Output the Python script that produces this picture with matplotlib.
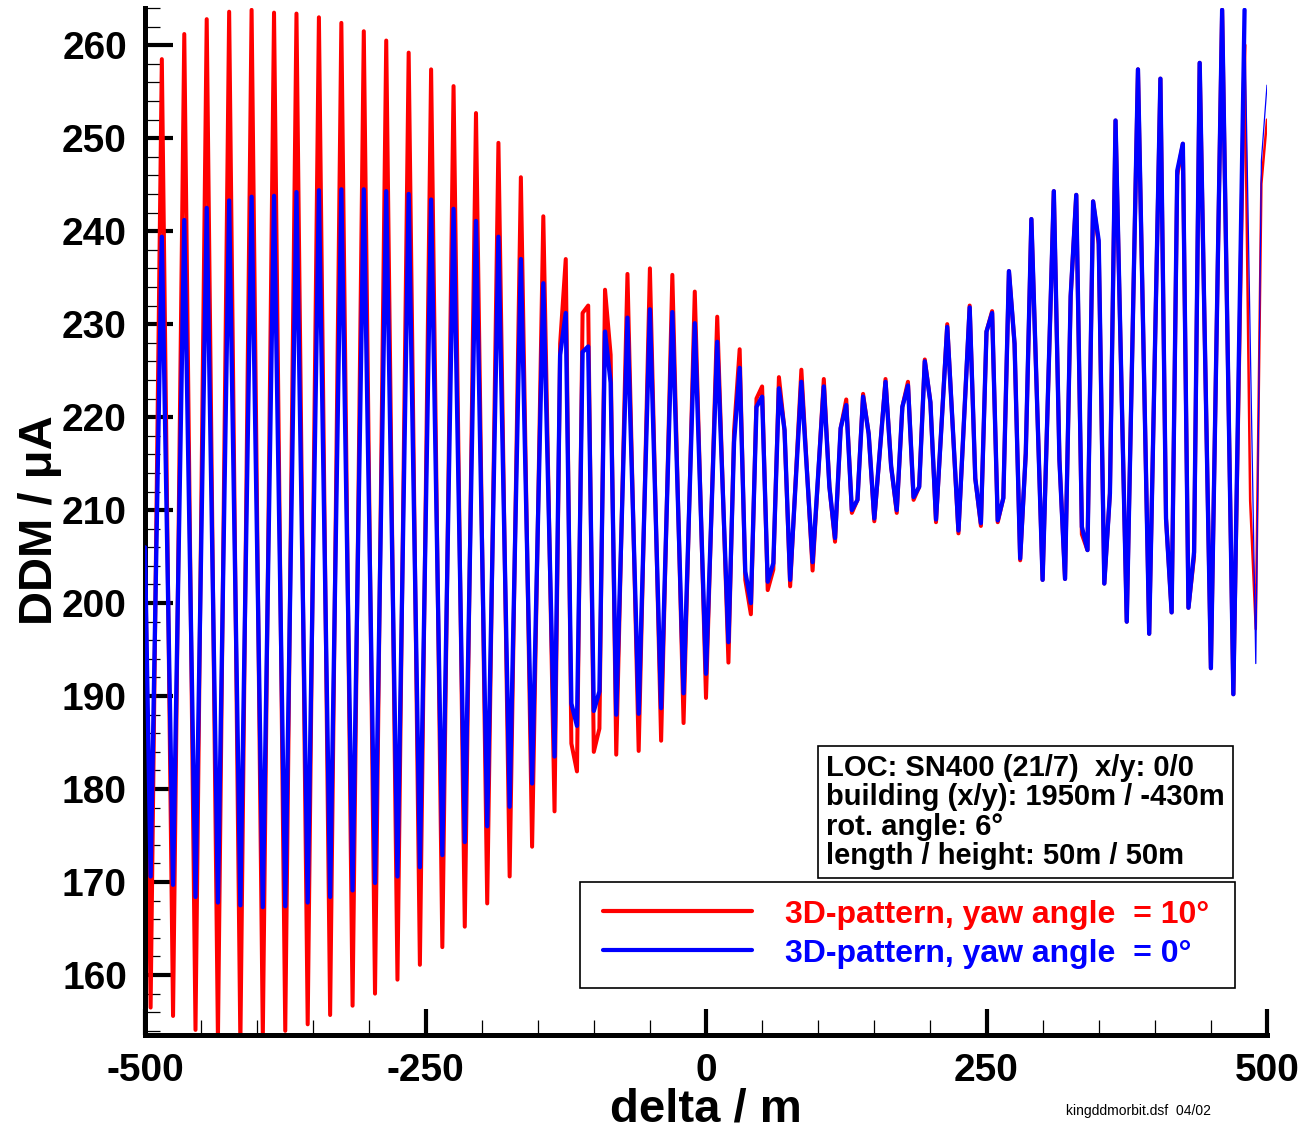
import matplotlib
matplotlib.use("Agg")
import matplotlib.pyplot as plt
from matplotlib.patches import Rectangle
from matplotlib.ticker import MultipleLocator

plt.rcParams['font.family'] = ['Liberation Sans', 'DejaVu Sans']
plt.rcParams['axes.unicode_minus'] = False

# sampled DDM values (vertices of the traces, every 5 m where the trace bends)
x_yaw0 = [-500, -495, -485, -475, -465, -455, -445, -435, -425, -415, -405, -395,
          -385, -375, -365, -355, -345, -335, -325, -315, -305, -295, -285, -275,
          -265, -255, -245, -235, -225, -215, -205, -195, -185, -175, -165, -155,
          -145, -135, -130, -125, -120, -115, -110, -105, -100, -95, -90, -85,
          -80, -70, -60, -50, -40, -30, -20, -10, 0, 10, 20, 25, 30, 35, 40, 45,
          50, 55, 60, 65, 70, 75, 85, 95, 105, 110, 115, 120, 125, 130, 135, 140,
          145, 150, 160, 165, 170, 175, 180, 185, 190, 195, 200, 205, 215, 225,
          235, 240, 245, 250, 255, 260, 265, 270, 275, 280, 285, 290, 300, 310,
          315, 320, 325, 330, 335, 340, 345, 350, 355, 360, 365, 375, 385, 395,
          405, 410, 415, 420, 425, 430, 435, 440, 450, 460, 470, 480]
ddm_yaw0 = [206.0, 170.6, 239.4, 169.7, 241.2, 168.4, 242.5, 167.8, 243.3, 167.5,
            243.7, 167.3, 243.8, 167.4, 244.2, 167.8, 244.4, 168.4, 244.5, 169.1,
            244.5, 169.9, 244.3, 170.6, 244.0, 171.6, 243.4, 172.9, 242.4, 174.3,
            241.1, 176.0, 239.4, 178.1, 237.0, 180.6, 234.4, 183.5, 226.7, 231.2,
            189.2, 186.8, 227.0, 227.6, 188.4, 190.5, 229.2, 223.7, 188.0, 230.7,
            188.1, 231.6, 188.7, 231.3, 190.3, 230.1, 192.4, 228.1, 195.8, 217.3,
            225.3, 203.4, 200.0, 221.1, 222.2, 202.3, 204.3, 223.1, 218.6, 202.5,
            223.8, 204.4, 223.3, 212.5, 207.0, 218.8, 221.3, 210.0, 211.1, 222.2,
            218.2, 209.1, 223.8, 214.7, 210.0, 221.1, 223.4, 211.4, 212.5, 226.0,
            221.6, 209.0, 229.7, 207.8, 231.8, 213.4, 208.6, 229.2, 231.2, 208.9,
            211.3, 235.7, 227.9, 204.8, 216.1, 241.3, 202.5, 244.3, 215.4, 202.6,
            233.0, 243.9, 208.2, 205.7, 243.2, 239.0, 202.1, 211.8, 251.9, 198.0,
            257.4, 196.7, 256.4, 209.1, 199.0, 246.5, 249.4, 199.5, 205.5, 258.1,
            193.0, 263.8, 190.2, 263.8]
x_yaw0_end = [480, 490, 495, 500]
ddm_yaw0_end = [263.8, 193.5, 247.6, 255.7]

x_yaw10 = [-500, -495, -485, -475, -465, -455, -445, -435, -425, -415, -405, -395,
           -385, -375, -365, -355, -345, -335, -325, -315, -305, -295, -285, -275,
           -265, -255, -245, -235, -225, -215, -205, -195, -185, -175, -165, -155,
           -145, -135, -130, -125, -120, -115, -110, -105, -100, -95, -90, -85,
           -80, -70, -60, -50, -40, -30, -20, -10, 0, 10, 20, 25, 30, 35, 40, 45,
           50, 55, 60, 65, 70, 75, 85, 95, 105, 110, 115, 120, 125, 130, 135, 140,
           145, 150, 160, 165, 170, 175, 180, 185, 190, 195, 200, 205, 215, 225,
           235, 240, 245, 250, 255, 260, 265, 270, 275, 280, 285, 290, 300, 310,
           315, 320, 325, 330, 335, 340, 345, 350, 355, 360, 365, 375, 385, 395,
           405, 410, 415, 420, 425, 430, 435, 440, 450, 460, 470, 480]
ddm_yaw10 = [208.0, 156.5, 258.5, 155.6, 261.2, 154.1, 262.8, 153.0, 263.6, 152.5,
             263.8, 153.3, 263.5, 154.0, 263.4, 154.7, 263.0, 155.7, 262.4, 156.7,
             261.5, 158.0, 260.5, 159.5, 259.2, 161.1, 257.4, 163.0, 255.6, 165.2,
             252.7, 167.7, 249.5, 170.6, 245.8, 173.8, 241.6, 177.6, 227.9, 237.0,
             184.9, 181.9, 231.2, 232.0, 184.0, 186.5, 233.7, 226.7, 183.7, 235.4,
             184.1, 236.0, 185.2, 235.3, 187.1, 233.5, 189.8, 230.8, 193.6, 218.5,
             227.3, 202.5, 198.8, 222.0, 223.3, 201.4, 203.6, 224.3, 218.6, 201.8,
             225.1, 203.5, 224.1, 212.5, 206.6, 218.8, 221.9, 209.7, 211.1, 222.5,
             218.2, 208.8, 224.1, 214.7, 209.7, 221.1, 223.8, 211.1, 212.5, 226.2,
             221.6, 208.7, 230.0, 207.5, 232.0, 213.4, 208.3, 229.2, 231.4, 208.7,
             211.3, 235.7, 227.9, 204.6, 216.1, 241.3, 202.5, 244.3, 215.4, 202.6,
             233.0, 243.9, 207.4, 205.7, 243.2, 238.6, 202.1, 211.8, 251.9, 198.0,
             257.4, 196.7, 256.4, 209.1, 199.0, 246.0, 249.4, 199.5, 205.0, 258.1,
             193.0, 263.8, 190.2, 260.0]
x_yaw10_end = [480, 485, 490, 495, 500]
ddm_yaw10_end = [260.0, 211.0, 197.2, 245.1, 252.0]

series_labels = ['3D-pattern, yaw angle  = 10°', '3D-pattern, yaw angle  = 0°']
series_colors = ['#ff0000', '#0000ff']

info_lines = ['LOC: SN400 (21/7)  x/y: 0/0',
              'building (x/y): 1950m / -430m',
              'rot. angle: 6°',
              'length / height: 50m / 50m']

W, H = 1302, 1133
fig = plt.figure(figsize=(W / 100, H / 100), dpi=100)
ax = fig.add_axes([145 / W, 1 - 1035 / H, 1122 / W, 1027 / H])

line_kw = dict(solid_joinstyle='round', solid_capstyle='round')
ax.plot(x_yaw10, ddm_yaw10, color=series_colors[0], lw=2.9, zorder=2, **line_kw)
ax.plot(x_yaw10_end, ddm_yaw10_end, color=series_colors[0], lw=1.8, zorder=2, **line_kw)
ax.plot(x_yaw0, ddm_yaw0, color=series_colors[1], lw=3.1, zorder=3, **line_kw)
ax.plot(x_yaw0_end, ddm_yaw0_end, color=series_colors[1], lw=0.9, zorder=3, **line_kw)

ax.set_xlim(-500, 500)
ax.set_ylim(153.55, 264.0)

for side in ['top', 'right']:
    ax.spines[side].set_visible(False)
for side in ['left', 'bottom']:
    ax.spines[side].set_linewidth(3.6)
    ax.spines[side].set_capstyle('projecting')

ax.set_xticks([-500, -250, 0, 250, 500])
ax.xaxis.set_minor_locator(MultipleLocator(50))
ax.set_yticks(range(160, 261, 10))
ax.yaxis.set_minor_locator(MultipleLocator(2))

ax.tick_params(axis='both', which='major', direction='in', width=3.0,
               labelsize=28, pad=13, color='black')
ax.tick_params(axis='x', which='major', length=19)
ax.tick_params(axis='y', which='major', length=20)
ax.tick_params(axis='both', which='minor', direction='in', width=0.9, length=10.5)
for lab in ax.get_xticklabels() + ax.get_yticklabels():
    lab.set_fontweight('bold')

fig.text(40 / W, 1 - 520 / H, 'DDM / μA', rotation=90, ha='center', va='center',
         fontsize=34, fontweight='bold')
fig.text(706 / W, 1 - 1110 / H, 'delta / m', ha='center', va='center',
         fontsize=34, fontweight='bold')

# info box
ax.add_patch(Rectangle((0.5998, 0.1529), 0.3699, 0.1285, transform=ax.transAxes,
                       facecolor='white', edgecolor='black', lw=1.2, zorder=5))
for i, line in enumerate(info_lines):
    ax.text(0.6070, 0.2522 - i * 0.0285, line, transform=ax.transAxes,
            ha='left', va='baseline', fontsize=21, fontweight='bold', zorder=6)

# legend box
ax.add_patch(Rectangle((0.3877, 0.0458), 0.5838, 0.1032, transform=ax.transAxes,
                       facecolor='white', edgecolor='black', lw=1.2, zorder=5))
for ypos, lab, col in zip([0.1207, 0.0828], series_labels, series_colors):
    ax.plot([0.4082, 0.541], [ypos, ypos], transform=ax.transAxes, color=col,
            lw=3.0, solid_capstyle='round', zorder=6, clip_on=False)
    ax.text(0.5705, ypos - 0.004, lab, transform=ax.transAxes, color=col, ha='left',
            va='center', fontsize=23, fontweight='bold', zorder=6)

fig.text(1066 / W, 1 - 1111 / H, 'kingddmorbit.dsf  04/02', ha='left', va='center',
         fontsize=10)

fig.savefig('out.png', dpi=100)
